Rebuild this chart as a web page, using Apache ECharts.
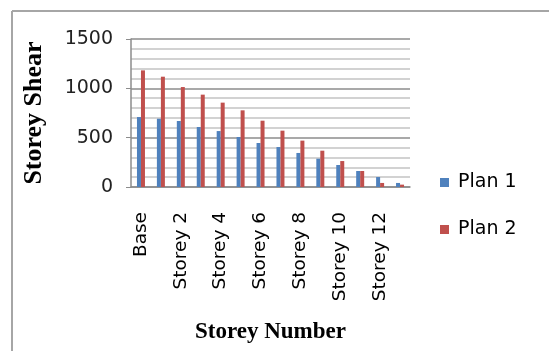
<!DOCTYPE html>
<html>
<head>
<meta charset="utf-8">
<script src="https://cdn.jsdelivr.net/npm/echarts@6/dist/echarts.min.js"></script>
<style>
  html, body { margin: 0; padding: 0; background: #ffffff; }
  #chart { width: 549px; height: 351px; }
</style>
</head>
<body>
<div id="chart"></div>
<script>
// Storey shear per storey for two building plans
const storeys = ['Base', 'Storey 1', 'Storey 2', 'Storey 3', 'Storey 4', 'Storey 5', 'Storey 6',
  'Storey 7', 'Storey 8', 'Storey 9', 'Storey 10', 'Storey 11', 'Storey 12', 'Storey 13'];
const plan1 = [709, 692, 669, 608, 567, 507, 446, 405, 345, 287, 223, 162, 101, 41];
const plan2 = [1182, 1118, 1013, 936, 855, 777, 672, 571, 470, 368, 263, 162, 41, 24];
const yTicks = [0, 500, 1000, 1500];

const chart = echarts.init(document.getElementById('chart'), null, { renderer: 'canvas' });

const sansFont = 'DejaVu Sans';
const serifFont = 'Liberation Serif';

chart.setOption({
  animation: false,
  backgroundColor: '#ffffff',
  graphic: [
    { type: 'line', shape: { x1: 12, y1: 11, x2: 549, y2: 11 }, style: { stroke: '#a6a6a6', lineWidth: 2 } },
    { type: 'line', shape: { x1: 12, y1: 11, x2: 12, y2: 351 }, style: { stroke: '#a6a6a6', lineWidth: 2 } }
  ],
  grid: { left: 131, right: 139, top: 39, bottom: 164 },
  legend: {
    orient: 'vertical',
    left: 435,
    top: 168,
    itemWidth: 9,
    itemHeight: 9,
    itemGap: 28,
    icon: 'rect',
    textStyle: { fontFamily: sansFont, fontSize: 19, color: '#000000', padding: [0, 0, 0, 4] },
    data: ['Plan 1', 'Plan 2']
  },
  xAxis: {
    type: 'category',
    data: storeys,
    name: 'Storey Number',
    nameLocation: 'middle',
    nameGap: 134,
    nameTextStyle: { fontFamily: serifFont, fontWeight: 'bold', fontSize: 23, color: '#000000' },
    axisLine: { lineStyle: { color: '#8c8c8c', width: 1.5 } },
    axisTick: { show: false },
    axisLabel: {
      interval: 1,
      rotate: 90,
      margin: 25,
      fontFamily: sansFont,
      fontSize: 18.5,
      color: '#000000'
    }
  },
  yAxis: {
    type: 'value',
    min: yTicks[0],
    max: yTicks[yTicks.length - 1],
    interval: yTicks[1] - yTicks[0],
    name: 'Storey Shear',
    nameLocation: 'middle',
    nameGap: 84,
    nameTextStyle: { fontFamily: serifFont, fontWeight: 'bold', fontSize: 26, color: '#000000' },
    axisLine: { show: true, lineStyle: { color: '#8c8c8c', width: 1.5 } },
    axisTick: { show: true, length: 5, lineStyle: { color: '#8c8c8c' } },
    axisLabel: {
      margin: 18,
      fontFamily: sansFont,
      fontSize: 19,
      color: '#222222',
      formatter: function (v) { return String(v); }
    },
    splitLine: { show: true, lineStyle: { color: '#8c8c8c', width: 1.5 } },
    minorTick: { show: false, splitNumber: 5 },
    minorSplitLine: { show: true, lineStyle: { color: '#c4c4c4', width: 1.5 } }
  },
  series: [
    {
      name: 'Plan 1',
      type: 'bar',
      data: plan1,
      barWidth: 4,
      barGap: '0%',
      itemStyle: { color: '#4f81bd' }
    },
    {
      name: 'Plan 2',
      type: 'bar',
      data: plan2,
      barWidth: 4,
      barGap: '0%',
      itemStyle: { color: '#c0504d' }
    }
  ]
});
</script>
</body>
</html>
